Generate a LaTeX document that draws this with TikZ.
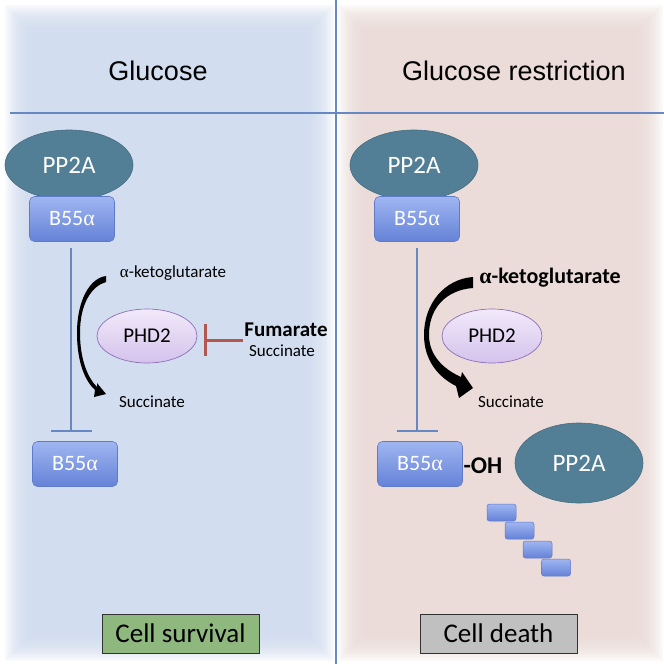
\documentclass[tikz,border=0pt]{standalone}
\usepackage{fontspec}
\setmainfont{Carlito}
\newfontfamily\arialf{Liberation Sans}
\newfontfamily\greekf{Liberation Serif}
\usetikzlibrary{shapes.geometric,arrows.meta}
\definecolor{leftbg}{RGB}{210,222,240}
\definecolor{rightbg}{RGB}{236,220,217}
\definecolor{divcol}{RGB}{104,136,196}
\definecolor{ppcol}{RGB}{82,127,150}
\definecolor{btop}{RGB}{160,182,242}
\definecolor{bbot}{RGB}{100,130,215}
\definecolor{bdraw}{RGB}{95,122,200}
\definecolor{phtop}{RGB}{242,234,250}
\definecolor{phbot}{RGB}{212,194,236}
\definecolor{phdraw}{RGB}{140,112,184}
\definecolor{redinh}{RGB}{178,88,80}
\definecolor{survcol}{RGB}{143,184,126}
\definecolor{deathcol}{RGB}{192,192,192}
\newcommand{\fs}[1]{\fontsize{#1}{#1}\selectfont}
\newcommand{\alp}{{\greekf α}}
\tikzset{
  pptwoa/.style={ellipse, minimum width=128pt, minimum height=70pt, inner sep=0pt,
    fill=ppcol, draw=ppcol!85!black, line width=0.6pt, text=white, font=\fs{25}},
  bfive/.style={rectangle, rounded corners=5pt, minimum width=85pt, minimum height=45pt,
    inner sep=0pt, top color=btop, bottom color=bbot, draw=bdraw, line width=0.6pt,
    text=white, font=\fs{22}},
  minibox/.style={rectangle, rounded corners=2.5pt, minimum width=29pt, minimum height=17pt,
    inner sep=0pt, top color=btop, bottom color=bbot, draw=bdraw, line width=0.5pt},
  phdtwo/.style={ellipse, minimum width=100pt, minimum height=54pt, inner sep=0pt,
    top color=phtop, bottom color=phbot, draw=phdraw, line width=0.7pt, font=\fs{21}},
  smalltxt/.style={inner sep=0pt, font=\fs{17}},
  titletxt/.style={inner sep=0pt, font=\arialf\fs{27}, anchor=base},
  outcome/.style={rectangle, minimum width=157pt, minimum height=39pt, inner sep=0pt,
    draw=black!80, line width=1pt, font=\fs{27}},
  divline/.style={draw=divcol, line width=1.5pt},
  inhline/.style={draw=divcol, line width=2.5pt, -{Bar[width=41pt]}},
  redline/.style={draw=redinh, line width=3pt, -{Bar[width=32pt]}},
}
\begin{document}
\begin{tikzpicture}[x=1pt,y=-1pt]
\useasboundingbox (0,0) rectangle (664,664);
\fill[white] (0,0) rectangle (664,664);
% soft panels
\foreach \i in {0,...,21} {
  \fill[leftbg,opacity=0.11] (5+1.4*\i,5+1.4*\i) rectangle (334-1.4*\i,661-1.4*\i);
  \fill[rightbg,opacity=0.11] (338+1.4*\i,5+1.4*\i) rectangle (663-1.4*\i,661-1.4*\i);
}
% dividers
\draw[divline] (336,0) -- (336,664);
\draw[divline] (10,113) -- (664,113);
% titles
\node[titletxt] (tL) at (158,80) {Glucose};
\node[titletxt] (tR) at (514,80) {Glucose restriction};

% ---------- left panel ----------
\node[pptwoa] (ppL) at (69,165) {PP2A};
\node[bfive] (bL1) at (72,219) {B55\alp};
\node[bfive] (bL2) at (75,464) {B55\alp};
\draw[inhline] (71,248) -- (71,432);
\node[phdtwo] (phL) at (147,336) {PHD2};
\node[smalltxt] (akL) at (173,273) {\alp-ketoglutarate};
\node[smalltxt] (scL) at (152,402) {Succinate};
\node[inner sep=0pt, font=\bfseries\fs{21}] (fum) at (286,330) {Fumarate};
\node[smalltxt] (scF) at (282,351) {Succinate};
\coordinate (redst) at (243,340);
\draw[redline] (redst) -- (204,340);
% thin curved arrow
\fill[black] (106,276) .. controls (90,278) and (77,300) .. (77,333)
  .. controls (77,362) and (85,381) .. (95,390)
  -- (94,397) -- (106,394) -- (97,383) -- (97,387)
  .. controls (88,378) and (80,360) .. (80,333)
  .. controls (80,303) and (92,286) .. (106,282) -- cycle;
\node[outcome, fill=survcol] (surv) at (180.5,633.5) {Cell survival};

% ---------- right panel ----------
\node[pptwoa] (ppR) at (414,165) {PP2A};
\node[bfive] (bR1) at (417,219) {B55\alp};
\node[bfive] (bR2) at (420,464) {B55\alp};
\draw[inhline] (417,248) -- (417,432);
\node[phdtwo] (phR) at (492,336) {PHD2};
\node[inner sep=0pt, font=\bfseries\fs{22}] (akR) at (550,278) {\alp-ketoglutarate};
\node[smalltxt] (scR) at (511,402) {Succinate};
% thick curved arrow
\fill[black] (473,277) .. controls (445,279) and (424,303) .. (424,335)
  .. controls (424,360) and (438,377) .. (456,386)
  -- (459,398) -- (473,388) -- (462,372) -- (461,377)
  .. controls (443,369) and (429,355) .. (429,335)
  .. controls (429,308) and (446,290) .. (473,288) -- cycle;
\node[inner sep=0pt, font=\bfseries\fs{24}] (oh) at (483,466) {-OH};
\node[pptwoa, minimum height=80pt] (ppR2) at (579,463) {PP2A};
\node[minibox] (m1) at (501.5,512.5) {};
\node[minibox] (m2) at (519.5,530.5) {};
\node[minibox] (m3) at (537.5,549.5) {};
\node[minibox] (m4) at (556,567.5) {};
\node[outcome, fill=deathcol] (death) at (498.5,633.5) {Cell death};
\end{tikzpicture}
\end{document}
